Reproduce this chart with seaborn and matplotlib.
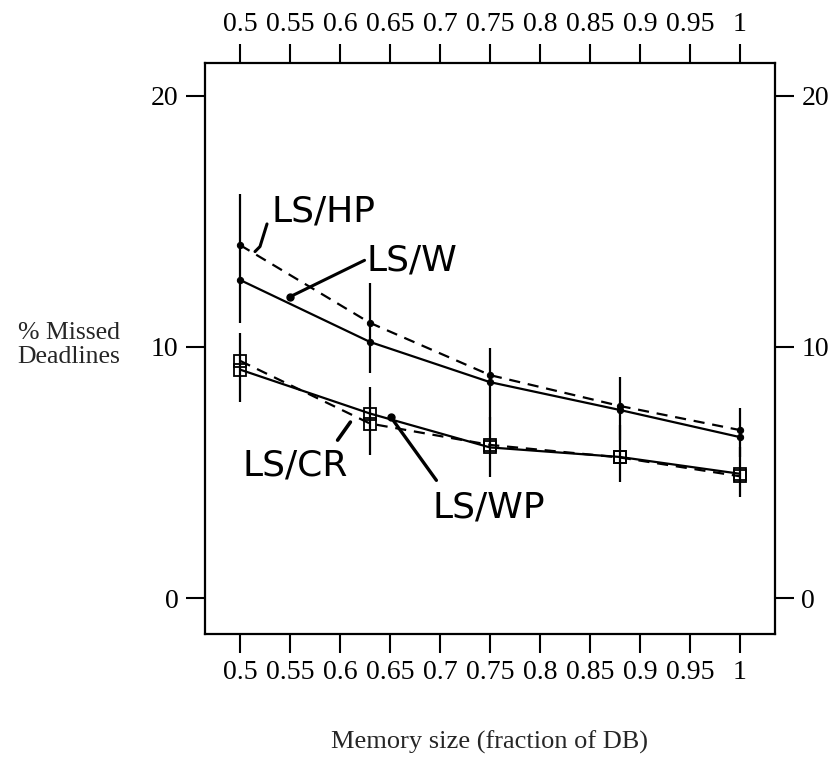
import matplotlib
matplotlib.use("Agg")
import matplotlib.pyplot as plt
import seaborn as sns
import pandas as pd
import numpy as np

# ---- data ----
memory = [0.5, 0.63, 0.75, 0.88, 1.0]
ls_hp = [14.06, 10.96, 8.88, 7.65, 6.69]
ls_w = [12.67, 10.2, 8.6, 7.49, 6.41]
ls_wp = [9.1, 7.35, 6.0, 5.62, 4.95]
ls_cr = [9.45, 6.95, 6.1, 5.6, 4.85]
# confidence interval bars (upper group: LS/HP & LS/W, lower group: LS/WP & LS/CR)
upper_ci_hi = [16.1, 12.55, 9.96, 8.8, 7.57]
upper_ci_lo = [10.95, 8.96, 7.1, 6.3, 5.6]
lower_ci_hi = [10.56, 8.4, 7.2, 6.9, 6.0]
lower_ci_lo = [7.8, 5.7, 4.82, 4.62, 4.02]
x_ticks = [0.5, 0.55, 0.6, 0.65, 0.7, 0.75, 0.8, 0.85, 0.9, 0.95, 1.0]
x_tick_labels = ["0.5", "0.55", "0.6", "0.65", "0.7", "0.75", "0.8", "0.85", "0.9", "0.95", "1"]
y_ticks = [0, 10, 20]

sns.set_style("ticks")
plt.rcParams["font.family"] = ["Liberation Serif", "DejaVu Serif"]

fig = plt.figure(figsize=(8.33, 7.59), dpi=100)
ax = fig.add_axes([0.2461, 0.1647, 0.9304 - 0.2461, 0.917 - 0.1647])

df = pd.DataFrame({
    "memory": memory * 4,
    "missed": ls_hp + ls_w + ls_wp + ls_cr,
    "series": ["LS/HP"] * 5 + ["LS/W"] * 5 + ["LS/WP"] * 5 + ["LS/CR"] * 5,
})

styles = {
    "LS/HP": dict(linestyle=(0, (5, 3.5)), marker="o", markersize=4.5),
    "LS/W": dict(linestyle="-", marker="o", markersize=4.5),
    "LS/WP": dict(linestyle="-", marker="s", markersize=9, markerfacecolor="none",
                  markeredgewidth=1.3),
    "LS/CR": dict(linestyle=(0, (5, 3.5)), marker="s", markersize=9, markerfacecolor="none",
                  markeredgewidth=1.3),
}
for name, st in styles.items():
    sub = df[df["series"] == name]
    sns.lineplot(data=sub, x="memory", y="missed", ax=ax, color="black",
                 markeredgecolor="black", linewidth=1.6, legend=False, zorder=3, **st)

ax.vlines(memory, upper_ci_lo, upper_ci_hi, color="black", linewidth=1.6, zorder=2)
ax.vlines(memory, lower_ci_lo, lower_ci_hi, color="black", linewidth=1.6, zorder=2)

ax.set_xlim(0.465, 1.035)
ax.set_ylim(-1.43, 21.31)
ax.set_xticks(x_ticks)
ax.set_xticklabels(x_tick_labels)
ax.set_yticks(y_ticks)
ax.tick_params(axis="both", which="both", direction="out", length=14, width=1.5,
               labelsize=20, colors="black", pad=5,
               top=True, right=True, labeltop=True, labelright=True)
for s in ax.spines.values():
    s.set_visible(True)
    s.set_linewidth(1.6)
    s.set_color("black")

ax.set_xlabel("")
ax.set_ylabel("")
fig.text(0.588, 0.022, "Memory size (fraction of DB)", ha="center", va="center",
         fontsize=19)
fig.text(0.083, 0.545, "% Missed\nDeadlines", ha="center", va="center",
         fontsize=18.5, linespacing=1.1)

# handwritten annotations
hand = dict(family=["DejaVu Sans"], fontsize=26, color="black")
ax.text(0.531, 15.4, "LS/HP", ha="left", va="center", **hand)
ax.text(0.626, 13.45, "LS/W", ha="left", va="center", **hand)
ax.text(0.502, 5.3, "LS/CR", ha="left", va="center", **hand)
ax.text(0.692, 3.6, "LS/WP", ha="left", va="center", **hand)
# pointer strokes
ax.plot([0.527, 0.52, 0.515], [14.9, 14.0, 13.8], color="black", linewidth=2.2)
ax.annotate("", xy=(0.55, 12.0), xytext=(0.627, 13.5),
            arrowprops=dict(arrowstyle="-", color="black", lw=2.2))
ax.plot([0.55], [12.0], marker="o", color="black", markersize=5)
ax.annotate("", xy=(0.612, 7.1), xytext=(0.596, 6.2),
            arrowprops=dict(arrowstyle="-", color="black", lw=2.6))
ax.annotate("", xy=(0.651, 7.2), xytext=(0.698, 4.6),
            arrowprops=dict(arrowstyle="-", color="black", lw=2.4))
ax.plot([0.651], [7.2], marker="o", color="black", markersize=5)

fig.savefig("out.png", dpi=100, facecolor="white")
